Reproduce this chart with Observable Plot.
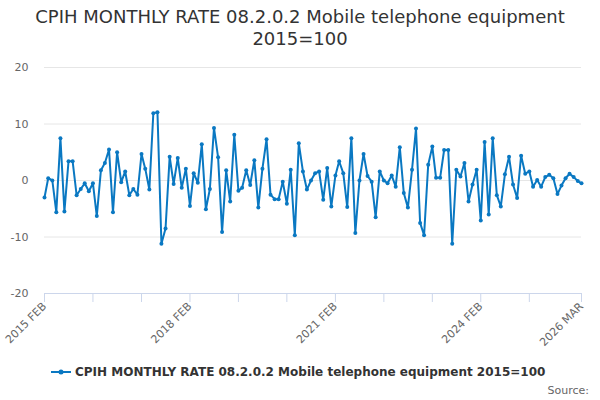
<!DOCTYPE html>
<html><head><meta charset="utf-8">
<script src="https://cdn.jsdelivr.net/npm/d3@7"></script>
<script src="https://cdn.jsdelivr.net/npm/@observablehq/plot@0.6"></script>
<style>
body{margin:0;background:#fff;font-family:"DejaVu Sans",sans-serif;}
#wrap{position:relative;width:600px;height:400px;overflow:hidden;}
#title{position:absolute;top:6px;left:0;width:600px;text-align:center;font-size:18px;line-height:22px;color:#333;}
#chart{position:absolute;top:50px;left:0;}
#legend{position:absolute;top:365px;left:50px;font-size:12px;font-weight:bold;color:#333;display:flex;align-items:center;white-space:nowrap;}
#source{position:absolute;top:384px;right:11px;font-size:11px;color:#666;}
</style></head>
<body>
<div id="wrap">
  <div id="title">CPIH MONTHLY RATE 08.2.0.2 Mobile telephone equipment<br>2015=100</div>
  <div id="chart"></div>
  <div id="legend"><svg width="22" height="10" style="margin-right:3px"><line x1="1" y1="5" x2="21" y2="5" stroke="#0a78c2" stroke-width="2"/><circle cx="11" cy="5" r="2.5" fill="#0a78c2"/></svg><span>CPIH MONTHLY RATE 08.2.0.2 Mobile telephone equipment 2015=100</span></div>
  <div id="source">Source:</div>
</div>
<script>
const seriesName = "CPIH MONTHLY RATE 08.2.0.2 Mobile telephone equipment 2015=100";
const startMonth = "2015-02";
const v2015 = [-3.0, 0.4, 0.0, -5.6, 7.5, -5.5, 3.4, 3.4, -2.6, -1.5, -0.5];
const v2016 = [-1.9, -0.5, -6.3, 1.8, 3.1, 5.5, -5.6, 5.0, -0.3, 1.6, -2.6, -1.5];
const v2017 = [-2.5, 4.7, 2.1, -1.6, 11.9, 12.1, -11.2, -8.5, 4.2, -0.6, 4.0, -1.3];
const v2018 = [2.1, -4.5, 1.3, -0.4, 6.4, -5.1, -1.5, 9.3, 4.1, -9.1, 1.8, -3.7];
const v2019 = [8.1, -1.8, -1.3, 1.8, -0.8, 3.6, -4.8, 2.1, 7.3, -2.5, -3.3, -3.3];
const v2020 = [-0.2, -4.1, 1.9, -9.7, 6.6, 1.6, -1.6, 0.0, 1.3, 1.6, -3.4, 2.2];
const v2021 = [-4.6, 0.9, 3.4, 1.3, -4.7, 7.5, -9.3, 0.0, 4.7, 0.8, -0.2, -6.5];
const v2022 = [1.6, 0.0, -0.5, 0.9, -1.1, 5.9, -2.2, -4.8, 1.9, 9.2, -7.5, -9.7];
const v2023 = [2.8, 6.0, 0.5, 0.5, 5.4, 5.4, -11.2, 1.9, 0.7, 3.1, -3.7, -0.7];
const v2024 = [1.9, -7.1, 6.8, -6.0, 7.5, -2.6, -4.6, 1.1, 4.2, -0.7, -3.1, 4.4];
const v2025 = [1.2, 1.6, -1.1, 0.1, -1.1, 0.6, 1.0, 0.4, -2.4, -0.9, 0.4, 1.2];
const v2026 = [0.6, -0.1, -0.5];
const yTicks = [-20, -10, 0, 10, 20];
const xTickDates = ["2015-02","2016-02","2017-02","2018-02","2019-02","2020-02","2021-02","2022-02","2023-02","2024-02","2025-02","2026-03"];
const xTickLabels = {"2015-02":"2015 FEB","2018-02":"2018 FEB","2021-02":"2021 FEB","2024-02":"2024 FEB","2026-03":"2026 MAR"};

const values = [].concat(v2015, v2016, v2017, v2018, v2019, v2020, v2021, v2022, v2023, v2024, v2025, v2026);
const start = new Date(startMonth + "-01T00:00:00Z");
const data = values.map((v, i) => ({date: d3.utcMonth.offset(start, i), value: v}));
const parse = s => new Date(s + "-01T00:00:00Z");
const tickDates = xTickDates.map(parse);
const fmtKey = d3.utcFormat("%Y-%m");
const color = "#0a78c2";

const plot = Plot.plot({
  width: 600,
  height: 310,
  marginTop: 17,
  marginBottom: 67,
  marginLeft: 44,
  marginRight: 19,
  style: {fontFamily: "DejaVu Sans, sans-serif", fontSize: "11px", color: "#666", background: "#fff"},
  x: {type: "utc", domain: [data[0].date, data[data.length - 1].date]},
  y: {domain: [-20, 20]},
  marks: [
    Plot.gridY(yTicks.filter(t => t > -20), {stroke: "#e6e6e6", strokeOpacity: 1}),
    Plot.ruleY([-20], {stroke: "#ccd6eb", strokeWidth: 1}),
    Plot.axisY({ticks: yTicks, tickSize: 0, tickPadding: 16, label: null, fill: "#666", tickFormat: d => String(d)}),
    Plot.axisX({ticks: tickDates, tickSize: 9, stroke: "#ccd6eb", tickPadding: 2,
      tickFormat: d => xTickLabels[fmtKey(d)] || "", tickRotate: -45, label: null, fill: "#666"}),
    Plot.line(data, {x: "date", y: "value", stroke: color, strokeWidth: 2}),
    Plot.dot(data, {x: "date", y: "value", fill: color, r: 2})
  ]
});
document.getElementById("chart").appendChild(plot);
</script>
</body></html>
